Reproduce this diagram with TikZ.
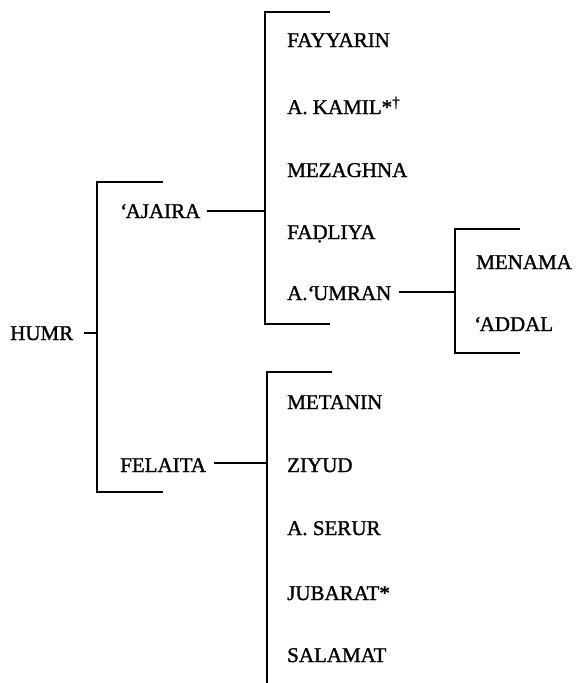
\documentclass[tikz,border=0pt]{standalone}
\usepackage{fontspec}
\setmainfont{Liberation Serif}
\newfontfamily\lblfont{Liberation Serif}[RawFeature={embolden=1.3}]
\newcommand\ayn{‘\kern-1.5pt}
\begin{document}
\begin{tikzpicture}[x=1pt,y=-1pt,
  lbl/.style={anchor=base west,inner sep=0pt,font=\lblfont\fontsize{21}{21}\selectfont},
  rule/.style={line width=1.4pt,line cap=butt,line join=miter}]
\useasboundingbox (0,0) rectangle (576,683);

% root
\node[lbl] (humr) at (10,340) {HUMR};
\coordinate (humrTop) at (97,182);
\coordinate (humrBot) at (97,492);
\coordinate (humrMid) at (97,333);
\draw[rule] (163,182) -- (humrTop) -- (humrBot) -- (163,492);
\draw[rule] ([xshift=11pt]humr.east |- humrMid) -- (humrMid);

% first branch
\node[lbl] (ajaira) at (120,218) {\ayn AJAIRA};
\coordinate (ajTop) at (265,12);
\coordinate (ajBot) at (265,324);
\coordinate (ajMid) at (265,211);
\draw[rule] (330,12) -- (ajTop) -- (ajBot) -- (330,324);
\draw[rule] ([xshift=6pt]ajaira.east |- ajMid) -- (ajMid);

\node[lbl] (fayyarin) at (287,47)  {FAYYARIN};
\node[lbl] (kamil)    at (287,114) {A. KAMIL*{\fontsize{15}{15}\selectfont\raisebox{0.45em}{†}}};
\node[lbl] (mezaghna) at (287,177) {MEZAGHNA};
\node[lbl] (fadliya)  at (287,239) {FAḌLIYA};
\node[lbl] (umran)    at (287,300) {A.\ayn UMRAN};

% sub-branch of A. 'Umran
\coordinate (umTop) at (455,229);
\coordinate (umBot) at (455,353);
\coordinate (umMid) at (455,292);
\draw[rule] (520,229) -- (umTop) -- (umBot) -- (520,353);
\draw[rule] ([xshift=8pt]umran.east |- umMid) -- (umMid);
\node[lbl] (menama) at (476,269) {MENAMA};
\node[lbl] (addal)  at (474,331) {\ayn ADDAL};

% second branch
\node[lbl] (felaita) at (120,472) {FELAITA};
\coordinate (feTop) at (267,372);
\coordinate (feBot) at (267,683);
\coordinate (feMid) at (267,463);
\draw[rule] (332,372) -- (feTop) -- (feBot);
\draw[rule] ([xshift=8pt]felaita.east |- feMid) -- (feMid);

\node[lbl] (metanin) at (287,409) {METANIN};
\node[lbl] (ziyud)   at (287,472) {ZIYUD};
\node[lbl] (serur)   at (287,535) {A. SERUR};
\node[lbl] (jubarat) at (287,600) {JUBARAT*};
\node[lbl] (salamat) at (287,662) {SALAMAT};
\end{tikzpicture}
\end{document}
